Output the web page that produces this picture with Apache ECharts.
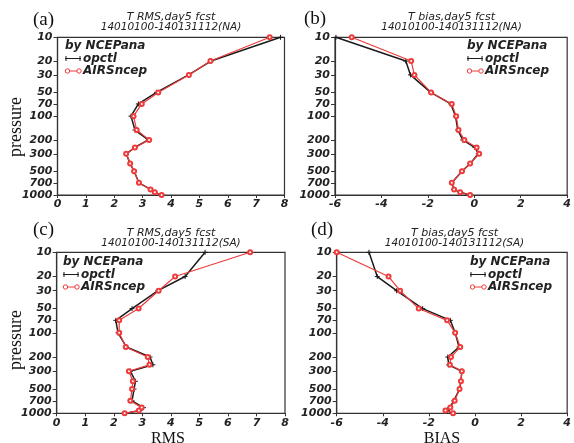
<!DOCTYPE html>
<html><head><meta charset="utf-8">
<script src="https://cdn.jsdelivr.net/npm/echarts@6/dist/echarts.min.js"></script>
<style>html,body{margin:0;padding:0;background:#fff;}#c{width:574px;height:443px;}</style>
</head><body><div id="c"></div>
<script>
// pressure levels (hPa)
const levels = [10,20,30,50,70,100,150,200,250,300,400,500,700,850,925,1000];
const pressureTicks = [10,20,30,50,70,100,200,300,500,700,1000];

// (a) T RMS, NA
const rmsNA_opctl    = [7.86,5.41,4.62,3.49,2.85,2.59,2.73,3.20,2.72,2.42,2.56,2.70,2.87,3.28,3.43,3.67];
const rmsNA_AIRSncep = [7.48,5.39,4.63,3.55,2.97,2.68,2.79,3.23,2.73,2.42,2.56,2.70,2.87,3.28,3.43,3.67];
// (b) T bias, NA
const biasNA_opctl    = [-5.96,-2.95,-2.75,-1.88,-1.01,-0.81,-0.71,-0.50,0.03,0.17,-0.18,-0.53,-0.97,-0.87,-0.61,-0.18];
const biasNA_AIRSncep = [-5.28,-2.72,-2.58,-1.86,-0.97,-0.78,-0.68,-0.43,0.10,0.21,-0.18,-0.53,-0.97,-0.87,-0.61,-0.18];
// (c) T RMS, SA
const rmsSA_opctl    = [5.20,4.50,3.55,2.64,2.07,2.15,2.44,3.27,3.37,2.58,2.76,2.71,2.64,3.04,2.92,2.42];
const rmsSA_AIRSncep = [6.78,4.15,3.57,2.87,2.19,2.19,2.42,3.19,3.25,2.53,2.67,2.64,2.58,2.98,2.88,2.38];
// (d) T bias, SA
const biasSA_opctl    = [-4.60,-4.24,-3.40,-2.27,-1.07,-0.86,-0.69,-1.18,-1.14,-0.57,-0.61,-0.67,-0.92,-1.10,-1.20,-1.00];
const biasSA_AIRSncep = [-6.00,-3.75,-3.25,-2.44,-1.21,-0.86,-0.64,-1.04,-1.09,-0.57,-0.61,-0.67,-0.88,-1.07,-1.28,-0.95];

const panelLabels = ['(a)','(b)','(c)','(d)'];
const titles1 = ['T RMS,day5 fcst','T bias,day5 fcst','T RMS,day5 fcst','T bias,day5 fcst'];
const titles2 = ['14010100-140131112(NA)','14010100-140131112(NA)','14010100-140131112(SA)','14010100-140131112(SA)'];
const legendNames = ['by NCEPana','opctl','AIRSncep'];

const BLACK = '#1a1a1a', RED = '#ee3b3b', AX = '#333';
const tickFont = {fontFamily:'DejaVu Sans', fontStyle:'oblique', fontWeight:'bold', fontSize:11, color:'#222'};

const grids = [
  {left:57.5, top:37.3, width:227, height:157.7},
  {left:335, top:37.3, width:233.3, height:157.7},
  {left:56.7, top:252.3, width:228.3, height:161},
  {left:336.7, top:252.3, width:236.3, height:161}
].map(g => Object.assign(g, {show:true, borderColor:AX, borderWidth:1.2, containLabel:false}));

const xRanges = [[0,8,1],[-6,4,2],[0,8,1],[-6,4,2]];
const xAxes = xRanges.map((r,i) => ({
  type:'value', gridIndex:i, min:r[0], max:r[1], interval:r[2],
  axisLine:{show:true, onZero:false, lineStyle:{color:AX, width:1.2}},
  axisTick:{show:true, inside:false, length:3, lineStyle:{color:AX}},
  axisLabel:Object.assign({margin:4}, tickFont),
  splitLine:{show:false}
}));
const yAxes = [0,1,2,3].map(i => ({
  type:'log', logBase:10, gridIndex:i, inverse:true, min:10, max:1000,
  axisLine:{show:true, onZero:false, lineStyle:{color:AX, width:1.2}},
  axisTick:{show:true, inside:false, length:4, customValues:pressureTicks, lineStyle:{color:AX}},
  axisLabel:Object.assign({margin:5, customValues:pressureTicks, formatter: v => String(Math.round(v))}, tickFont),
  minorTick:{show:false}, splitLine:{show:false}
}));

function pairs(vals){ return vals.map((v,k) => [v, levels[k]]); }
const sets = [
  [rmsNA_opctl, rmsNA_AIRSncep],
  [biasNA_opctl, biasNA_AIRSncep],
  [rmsSA_opctl, rmsSA_AIRSncep],
  [biasSA_opctl, biasSA_AIRSncep]
];
const series = [];
sets.forEach((s,i) => {
  series.push({
    type:'line', name:'opctl', xAxisIndex:i, yAxisIndex:i, data:pairs(s[0]),
    symbol:'path://M5,0L5,10M0,5L10,5', symbolSize:5,
    itemStyle:{color:BLACK, borderColor:BLACK, borderWidth:1},
    lineStyle:{color:BLACK, width:1.5}, animation:false, z:2
  });
  series.push({
    type:'line', name:'AIRSncep', xAxisIndex:i, yAxisIndex:i, data:pairs(s[1]),
    symbol:'emptyCircle', symbolSize:4,
    itemStyle:{color:RED, borderColor:RED, borderWidth:1},
    lineStyle:{color:RED, width:1.2}, animation:false, z:3
  });
});

// decorations
const legendFont = 'oblique bold 12px "DejaVu Sans"';
const titleFont1 = 'oblique 11px "DejaVu Sans"';
const titleFont2 = 'oblique 10.5px "DejaVu Sans"';
const serif = '"Liberation Serif"';
const graphics = [];
const legendPos = [[65,46],[467,46],[63,262],[470,262]];
const titlePos = [[171,17.5,27.5],[451.5,17.5,27.5],[171,233,243],[454.5,233,243]];
const labelPos = [[43.5,20],[315,19],[43.5,230],[322,230]];
legendPos.forEach(p => {
  const x = p[0], y = p[1];
  graphics.push({type:'text', x:x, y:y, style:{text:legendNames[0], font:legendFont, fill:'#222', align:'left', verticalAlign:'middle'}});
  const y2 = y + 12.5, y3 = y + 25;
  graphics.push({type:'line', shape:{x1:x, y1:y2, x2:x+16, y2:y2}, style:{stroke:BLACK, lineWidth:1}});
  graphics.push({type:'line', shape:{x1:x+1, y1:y2-2.5, x2:x+1, y2:y2+2.5}, style:{stroke:BLACK, lineWidth:1}});
  graphics.push({type:'line', shape:{x1:x+15, y1:y2-2.5, x2:x+15, y2:y2+2.5}, style:{stroke:BLACK, lineWidth:1}});
  graphics.push({type:'text', x:x+18, y:y2, style:{text:legendNames[1], font:legendFont, fill:'#222', align:'left', verticalAlign:'middle'}});
  graphics.push({type:'line', shape:{x1:x+2, y1:y3, x2:x+15, y2:y3}, style:{stroke:RED, lineWidth:1}});
  graphics.push({type:'circle', shape:{cx:x+2.5, cy:y3, r:2.2}, style:{stroke:RED, fill:'#fff', lineWidth:1}});
  graphics.push({type:'circle', shape:{cx:x+14, cy:y3, r:2.2}, style:{stroke:RED, fill:'#fff', lineWidth:1}});
  graphics.push({type:'text', x:x+18, y:y3, style:{text:legendNames[2], font:legendFont, fill:'#222', align:'left', verticalAlign:'middle'}});
});
titlePos.forEach((p,i) => {
  graphics.push({type:'text', x:p[0], y:p[1], style:{text:titles1[i], font:titleFont1, fill:'#222', align:'center', verticalAlign:'middle'}});
  graphics.push({type:'text', x:p[0], y:p[2], style:{text:titles2[i], font:titleFont2, fill:'#222', align:'center', verticalAlign:'middle'}});
});
labelPos.forEach((p,i) => {
  graphics.push({type:'text', x:p[0], y:p[1], style:{text:panelLabels[i], font:'19px '+serif, fill:'#111', align:'center', verticalAlign:'middle'}});
});
[[16,127],[16,340]].forEach(p => {
  graphics.push({type:'text', x:p[0], y:p[1], rotation:Math.PI/2, style:{text:'pressure', x:0, y:0, font:'18px '+serif, fill:'#111', align:'center', verticalAlign:'middle'}});
});
graphics.push({type:'text', x:168, y:439, style:{text:'RMS', font:'16px '+serif, fill:'#111', align:'center', verticalAlign:'middle'}});
graphics.push({type:'text', x:442, y:439, style:{text:'BIAS', font:'16px '+serif, fill:'#111', align:'center', verticalAlign:'middle'}});

const chart = echarts.init(document.getElementById('c'), null, {renderer:'canvas'});
chart.setOption({
  animation:false,
  backgroundColor:'#fff',
  grid:grids, xAxis:xAxes, yAxis:yAxes, series:series,
  graphic:graphics
});
</script></body></html>
